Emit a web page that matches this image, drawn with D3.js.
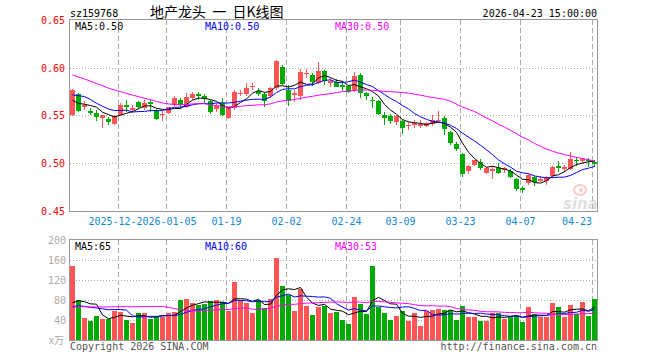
<!DOCTYPE html>
<html><head><meta charset="utf-8">
<script src="https://cdn.jsdelivr.net/npm/d3@7"></script>
<style>
body{margin:0;background:#fff}
svg{display:block}
text{font-family:"DejaVu Sans Mono","Liberation Mono",monospace;font-size:10px}
</style>
</head><body>
<svg id="c" width="660" height="360"></svg>
<script>
// ---------------- data ----------------
const dates = [
"2025-12-10","2025-12-11","2025-12-12","2025-12-15","2025-12-16","2025-12-17","2025-12-18","2025-12-19",
"2025-12-22","2025-12-23","2025-12-24","2025-12-25","2025-12-26","2025-12-29","2025-12-30","2025-12-31",
"2026-01-05","2026-01-06","2026-01-07","2026-01-08","2026-01-09","2026-01-12","2026-01-13","2026-01-14","2026-01-15","2026-01-16",
"2026-01-19","2026-01-20","2026-01-21","2026-01-22","2026-01-23","2026-01-26","2026-01-27","2026-01-28","2026-01-29","2026-01-30",
"2026-02-02","2026-02-03","2026-02-04","2026-02-05","2026-02-06","2026-02-09","2026-02-10","2026-02-11","2026-02-12","2026-02-13",
"2026-02-24","2026-02-25","2026-02-26","2026-02-27",
"2026-03-02","2026-03-03","2026-03-04","2026-03-05","2026-03-06","2026-03-09","2026-03-10","2026-03-11","2026-03-12","2026-03-13",
"2026-03-16","2026-03-17","2026-03-18","2026-03-19","2026-03-20","2026-03-23","2026-03-24","2026-03-25","2026-03-26","2026-03-27",
"2026-03-30","2026-03-31","2026-04-01","2026-04-02","2026-04-03","2026-04-07","2026-04-08","2026-04-09","2026-04-10",
"2026-04-13","2026-04-14","2026-04-15","2026-04-16","2026-04-17","2026-04-20","2026-04-21","2026-04-22","2026-04-23"];

const open = [
0.551,0.573,0.559,0.555,0.553,0.547,0.546,0.541,0.551,0.561,
0.556,0.564,0.558,0.564,0.556,0.550,0.553,0.561,0.566,0.559,
0.568,0.573,0.570,0.565,0.557,0.563,0.547,0.558,0.572,0.572,
0.580,0.576,0.573,0.570,0.579,0.601,0.577,0.571,0.570,0.594,
0.592,0.584,0.597,0.584,0.585,0.582,0.581,0.577,0.592,0.574,
0.566,0.565,0.551,0.549,0.543,0.544,0.539,0.540,0.539,0.539,
0.541,0.544,0.547,0.533,0.520,0.510,0.492,0.498,0.501,0.490,
0.492,0.495,0.493,0.492,0.484,0.474,0.479,0.486,0.481,0.481,
0.487,0.497,0.494,0.494,0.503,0.502,0.503,0.501];
const high = [
0.578,0.574,0.565,0.558,0.556,0.550,0.548,0.551,0.563,0.566,
0.561,0.565,0.566,0.566,0.557,0.555,0.559,0.570,0.568,0.574,
0.575,0.575,0.572,0.566,0.563,0.568,0.559,0.577,0.577,0.584,
0.584,0.579,0.575,0.580,0.608,0.603,0.582,0.577,0.599,0.599,
0.594,0.606,0.598,0.589,0.588,0.586,0.582,0.596,0.594,0.575,
0.569,0.566,0.554,0.552,0.550,0.545,0.543,0.545,0.545,0.543,
0.551,0.555,0.549,0.534,0.522,0.511,0.498,0.503,0.504,0.496,
0.497,0.500,0.496,0.494,0.485,0.476,0.489,0.487,0.487,0.487,
0.497,0.502,0.498,0.512,0.507,0.505,0.505,0.503];
const low = [
0.549,0.554,0.556,0.551,0.544,0.537,0.540,0.540,0.550,0.554,
0.553,0.557,0.556,0.554,0.545,0.544,0.552,0.560,0.558,0.558,
0.566,0.566,0.563,0.552,0.554,0.549,0.546,0.556,0.570,0.570,
0.577,0.570,0.559,0.568,0.577,0.582,0.560,0.564,0.566,0.589,
0.581,0.583,0.582,0.580,0.580,0.576,0.574,0.575,0.568,0.566,
0.558,0.551,0.540,0.541,0.540,0.531,0.535,0.537,0.537,0.538,
0.539,0.543,0.530,0.519,0.513,0.486,0.489,0.497,0.493,0.489,
0.484,0.489,0.490,0.485,0.471,0.469,0.477,0.476,0.480,0.477,
0.485,0.491,0.491,0.493,0.497,0.500,0.496,0.496];
const close = [
0.577,0.555,0.561,0.553,0.548,0.550,0.543,0.549,0.561,0.559,
0.558,0.559,0.563,0.562,0.546,0.552,0.559,0.568,0.561,0.569,
0.573,0.570,0.567,0.554,0.560,0.551,0.558,0.575,0.574,0.579,
0.581,0.572,0.565,0.579,0.607,0.583,0.565,0.574,0.596,0.595,
0.585,0.597,0.586,0.586,0.580,0.580,0.575,0.591,0.574,0.570,
0.565,0.552,0.547,0.544,0.549,0.537,0.540,0.542,0.541,0.542,
0.545,0.545,0.536,0.521,0.515,0.489,0.497,0.503,0.495,0.495,
0.494,0.490,0.495,0.486,0.473,0.472,0.488,0.480,0.483,0.486,
0.496,0.495,0.496,0.504,0.502,0.504,0.502,0.499];
// volume, x万
const volume = [
149,80,44,37,48,42,42,58,57,40,
35,55,55,42,46,47,55,56,80,82,
75,71,73,78,80,77,59,117,80,75,
55,80,65,83,165,108,91,58,103,68,
50,67,69,55,57,40,32,86,73,52,
149,67,54,40,48,58,38,54,28,58,
60,62,60,60,40,68,46,46,38,38,
54,54,42,48,48,36,66,52,46,46,
74,66,46,70,52,76,48,82];
// sessions before the visible window (estimated; they only feed the moving averages)
const prevClose = [
0.618,0.622,0.625,0.620,0.616,0.619,0.613,0.610,0.614,0.611,0.608,0.612,0.609,0.603,
0.597,0.590,0.583,0.574,0.560,0.553,0.562,0.571,0.583,0.588,0.581,0.572,0.565,0.560,0.556];
const prevVolume = [
42,48,51,39,45,47,44,50,41,46,43,49,45,42,43,110,135,140,118,115,62,55,60,58,59,60,54,58,52];

const tickDates  = ["2025-12-22","2026-01-05","2026-01-19","2026-02-02","2026-02-24","2026-03-09","2026-03-23","2026-04-07","2026-04-23"];
const tickLabels = ["2025-12-22","2026-01-05","01-19","02-02","02-24","03-09","03-23","04-07","04-23"];
const priceTicks = [0.65,0.60,0.55,0.50,0.45];
const volTicks = [200,160,120,80,40];
const maPeriods = [5,10,30];

// ---------------- drawing ----------------
const UP="#ff5555", DOWN="#00aa00", MACOL=["#000000","#0000ff","#ff00ff"];
const svg = d3.select("#c");
const PL=70, PR=597, PT=20, PB=211, VT=240, VB=340;

const x = d3.scaleBand().domain(dates).range([PL-0.5, PR+0.5]).paddingInner(1/6).paddingOuter(1/12);
const y = d3.scaleLinear().domain([0.45,0.65]).range([PB,PT]);
const yv = d3.scaleLinear().domain([0,200]).range([VB,VT]);

function ma(vals, prev, n){
  const all = prev.concat(vals), off = prev.length;
  return vals.map((v,i)=>d3.mean(all.slice(off+i-n+1, off+i+1)));
}
const priceMA = maPeriods.map(n=>ma(close, prevClose, n));
const volMA = maPeriods.map(n=>ma(volume, prevVolume, n));

const idx = d3.range(dates.length);

// grids
const g = svg.append("g");
priceTicks.slice(1,-1).forEach(t=>{
  const yy=Math.round(y(t))+0.5;
  g.append("line").attr("x1",PL).attr("x2",PR).attr("y1",yy).attr("y2",yy)
   .attr("stroke","#aaa").attr("stroke-dasharray","1,2");
});
volTicks.slice(1).forEach(t=>{
  const yy=Math.round(yv(t))+0.5;
  g.append("line").attr("x1",PL).attr("x2",PR).attr("y1",yy).attr("y2",yy)
   .attr("stroke","#aaa").attr("stroke-dasharray","1,2");
});
tickDates.forEach(d=>{
  const xx=x(d)+0.5;
  [[PT,PB],[VT,VB]].forEach(([a,b])=>{
    g.append("line").attr("x1",xx).attr("x2",xx).attr("y1",a).attr("y2",b)
     .attr("stroke","#aaa").attr("stroke-dasharray","5,3");
  });
});

// watermark
const wm = svg.append("g").attr("opacity",0.55);
wm.append("ellipse").attr("cx",580).attr("cy",190).attr("rx",6).attr("ry",5)
  .attr("fill","none").attr("stroke","#f4a0a0").attr("stroke-width",2);
wm.append("circle").attr("cx",581).attr("cy",190).attr("r",2).attr("fill","#f4a0a0");
wm.append("text").attr("x",563).attr("y",209).text("sina")
  .style("font-family","DejaVu Sans").style("font-size","15px").style("font-style","italic")
  .style("font-weight","bold").attr("fill","#c8c8c8");

// candles
const cg = svg.append("g").attr("shape-rendering","crispEdges");
cg.selectAll("rect.w").data(idx).join("rect").attr("class","w")
  .attr("x",i=>x(dates[i])+2).attr("width",1)
  .attr("y",i=>Math.round(y(high[i])))
  .attr("height",i=>Math.max(1,Math.round(y(low[i]))-Math.round(y(high[i]))))
  .attr("fill",i=>close[i]>=open[i]?UP:DOWN);
cg.selectAll("rect.b").data(idx).join("rect").attr("class","b")
  .attr("x",i=>x(dates[i])).attr("width",x.bandwidth())
  .attr("y",i=>Math.round(y(Math.max(open[i],close[i]))))
  .attr("height",i=>Math.max(1,Math.round(y(Math.min(open[i],close[i])))-Math.round(y(Math.max(open[i],close[i])))))
  .attr("fill",i=>close[i]>=open[i]?UP:DOWN);

// volume bars
cg.selectAll("rect.v").data(idx).join("rect").attr("class","v")
  .attr("x",i=>x(dates[i])).attr("width",x.bandwidth())
  .attr("y",i=>Math.round(yv(volume[i])))
  .attr("height",i=>VB-Math.round(yv(volume[i])))
  .attr("fill",i=>close[i]>=open[i]?UP:DOWN);

// MA lines
const cx = i=>x(dates[i])+2.5;
priceMA.forEach((m,k)=>{
  svg.append("path").datum(idx).attr("fill","none").attr("stroke",MACOL[k]).attr("stroke-width",1)
    .attr("d",d3.line().x(cx).y(i=>y(m[i])));
});
volMA.forEach((m,k)=>{
  svg.append("path").datum(idx).attr("fill","none").attr("stroke",MACOL[k]).attr("stroke-width",1)
    .attr("d",d3.line().x(cx).y(i=>yv(m[i])));
});

// frames
svg.append("rect").attr("x",PL-0.5).attr("y",PT-0.5).attr("width",PR-PL+1).attr("height",PB-PT+1)
  .attr("fill","none").attr("stroke","#999");
svg.append("rect").attr("x",PL-0.5).attr("y",VT-0.5).attr("width",PR-PL+1).attr("height",VB-VT+1)
  .attr("fill","none").attr("stroke","#999");

// price axis labels
priceTicks.forEach(t=>{
  svg.append("text").attr("x",65).attr("y",Math.round(y(t))+4).attr("text-anchor","end")
    .attr("fill","#ff0000").text(d3.format(".2f")(t));
});
// volume axis labels
volTicks.forEach(t=>{
  svg.append("text").attr("x",66).attr("y",Math.round(yv(t))+4).attr("text-anchor","end")
    .attr("fill","#aaa").text(t);
});
svg.append("text").attr("x",64).attr("y",344).attr("text-anchor","end").attr("fill","#aaa")
  .style("font-family","'Noto Sans CJK SC',sans-serif").text("x万");

// date labels (later labels are painted over earlier ones, as in the original)
tickDates.forEach((d,k)=>{
  const lab = tickLabels[k], half = lab.length*3;
  const xx = Math.min(x(d)+0.5, PR-5-half);
  const grp = svg.append("g");
  const t = grp.append("text").attr("x",xx).attr("y",225).attr("text-anchor","middle")
    .attr("fill","#1188dd").text(lab);
  const bb = t.node().getBBox();
  grp.insert("rect","text").attr("x",bb.x).attr("y",bb.y).attr("width",bb.width).attr("height",bb.height)
    .attr("fill","#fff");
});

// legends
const fmtP = d3.format(".2f");
const last = dates.length-1;
const legX = [75,205,335];
maPeriods.forEach((n,k)=>{
  svg.append("text").attr("x",legX[k]).attr("y",30).attr("fill",MACOL[k])
    .text(`MA${n}:${fmtP(priceMA[k][last])}`);
  svg.append("text").attr("x",legX[k]).attr("y",250).attr("fill",MACOL[k])
    .text(`MA${n}:${Math.floor(volMA[k][last])}`);
});

// header & footer
svg.append("text").attr("x",70).attr("y",17).attr("fill","#000").text("sz159768");
svg.append("text").attr("x",150).attr("y",17).attr("fill","#000")
  .style("font-family","'Noto Sans CJK SC',sans-serif").style("font-size","14px")
  .style("white-space","pre").attr("xml:space","preserve").text("地产龙头  一  日K线图");
svg.append("text").attr("x",597).attr("y",17).attr("text-anchor","end").attr("fill","#000").text("2026-04-23 15:00:00");
svg.append("text").attr("x",70).attr("y",350).attr("fill","#555").text("Copyright 2026 SINA.COM");
svg.append("text").attr("x",597).attr("y",350).attr("text-anchor","end").attr("fill","#555").text("http://finance.sina.com.cn");
</script>
</body></html>
